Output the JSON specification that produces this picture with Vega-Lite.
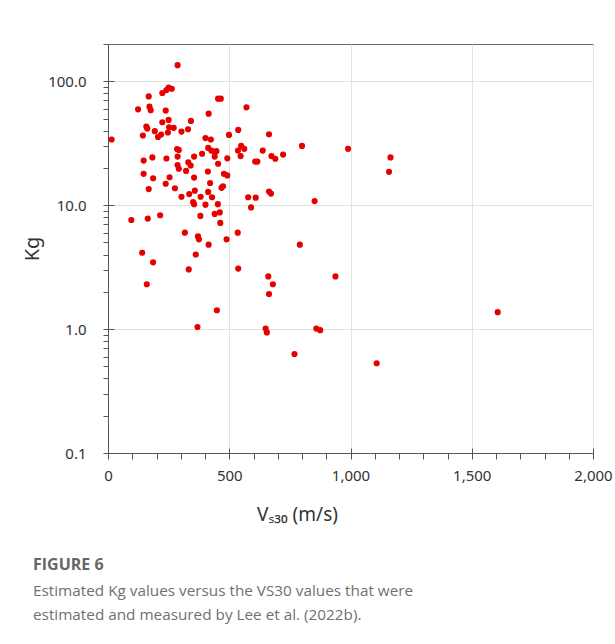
{
  "$schema": "https://vega.github.io/schema/vega-lite/v6.json",
  "autosize": "none",
  "width": 485,
  "height": 409,
  "padding": {"left": 108, "top": 44, "right": 22, "bottom": 191},
  "background": "white",
  "config": {
    "view": {"stroke": "#666", "strokeWidth": 1},
    "axis": {"labelFont": "Noto Sans", "titleFont": "Noto Sans", "domainColor": "#555", "tickColor": "#555", "labelColor": "#333", "titleColor": "#333", "titleFontWeight": "normal", "gridColor": "#e2e2e2", "gridWidth": 1}
  },
  "title": {
    "text": "FIGURE 6",
    "subtitle": ["Estimated Kg values versus the VS30 values that were", "estimated and measured by Lee et al. (2022b)."],
    "orient": "bottom",
    "anchor": "start",
    "frame": "group",
    "dx": -75,
    "offset": 33,
    "font": "Open Sans",
    "fontSize": 16,
    "fontWeight": "bold",
    "color": "#666",
    "subtitleFont": "Open Sans",
    "subtitleFontSize": 15.3,
    "subtitleColor": "#707070",
    "subtitlePadding": 11,
    "subtitleLineHeight": 24
  },
  "data": {"values": [
    {"vs30":287,"kg":135},{"vs30":15,"kg":33.9},{"vs30":168,"kg":75.5},{"vs30":124,"kg":59.4},{"vs30":171,"kg":62.4},{"vs30":176,"kg":58.5},{"vs30":224,"kg":80.5},{"vs30":241,"kg":85},{"vs30":250,"kg":89},{"vs30":263,"kg":87},
    {"vs30":238,"kg":58},{"vs30":224,"kg":46.7},{"vs30":250,"kg":48.8},{"vs30":158,"kg":43.1},{"vs30":162,"kg":41.5},{"vs30":193,"kg":39.6},{"vs30":144,"kg":36.5},{"vs30":206,"kg":35.5},{"vs30":219,"kg":37.2},{"vs30":247,"kg":38.6},
    {"vs30":252,"kg":42.5},{"vs30":271,"kg":42.1},{"vs30":303,"kg":39.3},{"vs30":330,"kg":41},{"vs30":342,"kg":47.9},{"vs30":415,"kg":54.8},{"vs30":454,"kg":72.4},{"vs30":465,"kg":72.4},{"vs30":571,"kg":61.6},{"vs30":285,"kg":28.4},
    {"vs30":292,"kg":27.9},{"vs30":402,"kg":34.8},{"vs30":424,"kg":33.9},{"vs30":499,"kg":36.9},{"vs30":537,"kg":40.5},{"vs30":664,"kg":37.4},{"vs30":147,"kg":22.9},{"vs30":183,"kg":24.3},{"vs30":241,"kg":23.8},{"vs30":287,"kg":24.7},
    {"vs30":355,"kg":24.7},{"vs30":331,"kg":22.2},{"vs30":341,"kg":20.9},{"vs30":287,"kg":21.1},{"vs30":292,"kg":19.7},{"vs30":322,"kg":18.9},{"vs30":388,"kg":26},{"vs30":413,"kg":29},{"vs30":426,"kg":27.6},{"vs30":440,"kg":26.9},
    {"vs30":447,"kg":27.3},{"vs30":440,"kg":24.7},{"vs30":454,"kg":21.6},{"vs30":492,"kg":23.9},{"vs30":549,"kg":30.1},{"vs30":536,"kg":27.6},{"vs30":562,"kg":28.5},{"vs30":547,"kg":24.9},{"vs30":638,"kg":27.6},{"vs30":607,"kg":22.5},
    {"vs30":616,"kg":22.5},{"vs30":674,"kg":24.9},{"vs30":690,"kg":23.7},{"vs30":722,"kg":25.6},{"vs30":800,"kg":30.1},{"vs30":147,"kg":17.9},{"vs30":186,"kg":16.5},{"vs30":254,"kg":16.8},{"vs30":238,"kg":14.9},{"vs30":168,"kg":13.5},
    {"vs30":276,"kg":13.7},{"vs30":355,"kg":16.7},{"vs30":412,"kg":18.7},{"vs30":478,"kg":17.9},{"vs30":492,"kg":17.4},{"vs30":421,"kg":15.1},{"vs30":468,"kg":13.8},{"vs30":474,"kg":14.2},{"vs30":303,"kg":11.7},{"vs30":335,"kg":12.3},
    {"vs30":358,"kg":13.1},{"vs30":382,"kg":11.7},{"vs30":351,"kg":10.6},{"vs30":355,"kg":10.2},{"vs30":402,"kg":10.1},{"vs30":413,"kg":12.8},{"vs30":429,"kg":11.6},{"vs30":453,"kg":10.2},{"vs30":440,"kg":8.5},{"vs30":461,"kg":8.75},
    {"vs30":463,"kg":7.2},{"vs30":578,"kg":11.6},{"vs30":609,"kg":11.5},{"vs30":590,"kg":9.6},{"vs30":664,"kg":12.9},{"vs30":672,"kg":12.4},{"vs30":852,"kg":10.8},{"vs30":96,"kg":7.6},{"vs30":164,"kg":7.8},{"vs30":215,"kg":8.3},
    {"vs30":381,"kg":8.2},{"vs30":317,"kg":6.0},{"vs30":371,"kg":5.6},{"vs30":375,"kg":5.3},{"vs30":415,"kg":4.8},{"vs30":489,"kg":5.3},{"vs30":535,"kg":6.0},{"vs30":791,"kg":4.8},{"vs30":141,"kg":4.13},{"vs30":362,"kg":4.0},
    {"vs30":186,"kg":3.46},{"vs30":333,"kg":3.03},{"vs30":537,"kg":3.08},{"vs30":160,"kg":2.3},{"vs30":661,"kg":2.66},{"vs30":680,"kg":2.3},{"vs30":664,"kg":1.92},{"vs30":449,"kg":1.42},{"vs30":369,"kg":1.04},{"vs30":650,"kg":1.01},
    {"vs30":655,"kg":0.94},{"vs30":769,"kg":0.63},{"vs30":859,"kg":1.01},{"vs30":875,"kg":0.98},{"vs30":938,"kg":2.66},{"vs30":1108,"kg":0.53},{"vs30":1607,"kg":1.37},{"vs30":990,"kg":28.5},{"vs30":1165,"kg":24.3},{"vs30":1159,"kg":18.6}
  ]},
  "layer": [
    {
      "mark": {"type": "circle", "color": "#e60000", "opacity": 1, "size": 38},
      "encoding": {
        "x": {
          "field": "vs30", "type": "quantitative",
          "scale": {"domain": [0, 2000], "nice": false, "zero": false},
          "axis": {
            "orient": "bottom",
            "values": [0,100,200,300,400,500,600,700,800,900,1000,1100,1200,1300,1400,1500,1600,1700,1800,1900,2000],
            "labelExpr": "datum.value % 500 === 0 ? format(datum.value, ',') : ''",
            "tickSize": 6,
            "labelPadding": 9,
            "labelFontSize": 15,
            "labelFlush": false,
            "labelOverlap": false,
            "grid": true,
            "gridOpacity": {"condition": {"test": "datum.value % 500 === 0", "value": 1}, "value": 0},
            "title": "Vₛ₃₀ (m/s)",
            "titleFontSize": 19,
            "titlePadding": 22,
            "titleX": 189,
            "titleAlign": "center"
          }
        },
        "y": {
          "field": "kg", "type": "quantitative",
          "scale": {"type": "log", "domain": [0.1, 200], "nice": false},
          "axis": {
            "orient": "left",
            "values": [0.1,0.2,0.3,0.4,0.5,0.6,0.7,0.8,0.9,1,2,3,4,5,6,7,8,9,10,20,30,40,50,60,70,80,90,100,200],
            "labelExpr": "indexof([0.1, 1, 10, 100], datum.value) >= 0 ? format(datum.value, '.1f') : ''",
            "tickSize": 5,
            "labelPadding": 17,
            "labelFontSize": 15,
            "labelOverlap": false,
            "labelFlush": false,
            "grid": true,
            "gridOpacity": {"condition": {"test": "indexof([0.1, 1, 10, 100], datum.value) >= 0", "value": 1}, "value": 0},
            "title": "Kg",
            "titleFontSize": 20,
            "titlePadding": 5
          }
        }
      }
    },
    {
      "mark": {"type": "circle", "opacity": 0},
      "encoding": {
        "x": {
          "field": "vs30", "type": "quantitative",
          "axis": {"orient": "bottom", "values": [0,500,1000,1500,2000], "tickSize": -5, "labels": false, "domain": false, "grid": false, "title": null}
        },
        "y": {
          "field": "kg", "type": "quantitative",
          "axis": {"orient": "left", "values": [0.1,1,10,100], "tickSize": -6, "labels": false, "domain": false, "grid": false, "title": null}
        }
      }
    }
  ],
  "resolve": {"axis": {"x": "independent", "y": "independent"}}
}
